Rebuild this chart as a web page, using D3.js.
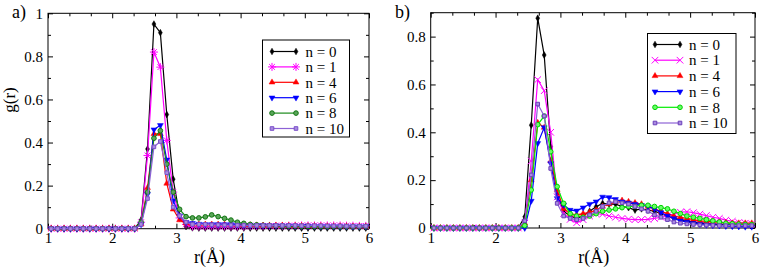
<!DOCTYPE html>
<meta charset="utf-8">
<head>
<style>
body { margin: 0; background: #fff; }
svg { display: block; font-family: "Liberation Serif", "Times New Roman", serif; }
.axis { font-family: "Liberation Serif", "Times New Roman", serif; }
.tick text { font-size: 15px; fill: #000; }
.axis line { stroke: #000; }
</style>
</head>
<body>
<script src="https://cdn.jsdelivr.net/npm/d3@7"></script>
<svg id="chart" width="760" height="271"></svg>
<script>

// r sampling (Å)
var rValues = [1.05, 1.15, 1.25, 1.35, 1.45, 1.55, 1.65, 1.75, 1.85, 1.95,
  2.05, 2.15, 2.25, 2.35, 2.45, 2.55, 2.65, 2.75, 2.85, 2.95,
  3.05, 3.15, 3.25, 3.35, 3.45, 3.55, 3.65, 3.75, 3.85, 3.95,
  4.05, 4.15, 4.25, 4.35, 4.45, 4.55, 4.65, 4.75, 4.85, 4.95,
  5.05, 5.15, 5.25, 5.35, 5.45, 5.55, 5.65, 5.75, 5.85, 5.95];

var seriesNames = ["n = 0", "n = 1", "n = 4", "n = 6", "n = 8", "n = 10"];

// panel a)
var a_n0 = [0,0,0,0,0,0,0,0,0,0,0,0,0,0,
  0.04, 0.37, 0.95, 0.91, 0.53, 0.23, 0.06, 0.01,
  0.004,0.003,0.003,0.003,0.003,0.003,0.003,0.003,0.003,0.003,0.003,0.003,0.003,0.003,
  0.003,0.003,0.003,0.003,0.003,0.003,0.003,0.003,0.003,0.003,0.003,0.003,0.003,0.003];
var a_n1 = [0,0,0,0,0,0,0,0,0,0,0,0,0,0,
  0.03, 0.34, 0.82, 0.75, 0.41, 0.17, 0.05, 0.02,
  0.01,0.01,0.01,0.01,0.01,0.01,0.01,0.01,0.01,0.012,0.012,0.012,0.013,0.013,
  0.013,0.014,0.014,0.015,0.015,0.015,0.015,0.015,0.015,0.015,0.014,0.014,0.013,0.013];
var a_n4 = [0,0,0,0,0,0,0,0,0,0,0,0,0,0,
  0.02, 0.19, 0.44, 0.44, 0.21, 0.09, 0.04, 0.025,
  0.02,0.02,0.02,0.02,0.02,0.02,0.02,0.018,0.018,0.017,0.016,0.015,0.015,0.015,
  0.015,0.014,0.014,0.014,0.013,0.013,0.013,0.012,0.012,0.012,0.012,0.011,0.011,0.011];
var a_n6 = [0,0,0,0,0,0,0,0,0,0,0,0,0,0,
  0.02, 0.16, 0.46, 0.48, 0.32, 0.13, 0.06, 0.03,
  0.025,0.022,0.02,0.02,0.02,0.02,0.02,0.018,0.017,0.016,0.015,0.015,0.014,0.014,
  0.013,0.013,0.012,0.012,0.012,0.011,0.011,0.011,0.01,0.01,0.01,0.01,0.01,0.01];
var a_n8 = [0,0,0,0,0,0,0,0,0,0,0,0,0,0,
  0.03, 0.17, 0.42, 0.455, 0.30, 0.17, 0.09, 0.056,
  0.05,0.05,0.055,0.064,0.056,0.048,0.04,0.03,0.025,0.02,0.018,0.016,0.015,0.014,
  0.013,0.012,0.012,0.011,0.011,0.01,0.01,0.01,0.01,0.01,0.01,0.01,0.01,0.01];
var a_n10 = [0,0,0,0,0,0,0,0,0,0,0,0,0,0,
  0.02, 0.14, 0.38, 0.405, 0.26, 0.10, 0.06, 0.03,
  0.02,0.02,0.02,0.018,0.018,0.017,0.017,0.016,0.016,0.015,0.015,0.015,0.015,0.015,
  0.015,0.015,0.015,0.014,0.014,0.014,0.014,0.013,0.013,0.013,0.012,0.012,0.012,0.012];

// panel b)
var b_n0 = [0,0,0,0,0,0,0,0,0,0,0,0,0,0,
  0.047, 0.43, 0.877, 0.723, 0.34, 0.14, 0.07, 0.05,
  0.04,0.05,0.07,0.089,0.103,0.10,0.10,0.09,0.085,0.075,
  0.08,0.075,0.07,0.06,0.05,0.04,0.035,0.03,0.025,0.02,
  0.018,0.015,0.014,0.013,0.012,0.011,0.01,0.01];
var b_n1 = [0,0,0,0,0,0,0,0,0,0,0,0,0,0,
  0.02, 0.28, 0.62, 0.574, 0.40, 0.13, 0.061, 0.036,
  0.022,0.035,0.05,0.06,0.058,0.05,0.045,0.04,0.037,0.035,
  0.035,0.036,0.04,0.045,0.05,0.058,0.066,0.068,0.064,0.058,
  0.052,0.045,0.04,0.033,0.028,0.023,0.02,0.017];
var b_n4 = [0,0,0,0,0,0,0,0,0,0,0,0,0,0,
  0.02, 0.20, 0.44, 0.42, 0.28, 0.16, 0.08, 0.06,
  0.055,0.06,0.065,0.075,0.09,0.10,0.11,0.115,0.11,0.105,
  0.10,0.09,0.08,0.07,0.06,0.05,0.045,0.04,0.035,0.03,
  0.028,0.026,0.024,0.022,0.02,0.02,0.02,0.02];
var b_n6 = [0,0,0,0,0,0,0,0,0,0,0,0,0,0,
  0.0, 0.113, 0.354, 0.42, 0.27, 0.124, 0.096, 0.075,
  0.072,0.085,0.10,0.11,0.13,0.128,0.12,0.11,0.105,0.10,
  0.095,0.09,0.08,0.065,0.05,0.04,0.03,0.025,0.02,0.016,
  0.013,0.011,0.01,0.008,0.007,0.006,0.005,0.005];
var b_n8 = [0,0,0,0,0,0,0,0,0,0,0,0,0,0,
  0.01, 0.159, 0.432, 0.468, 0.319, 0.173, 0.103, 0.06,
  0.05,0.045,0.05,0.06,0.07,0.075,0.08,0.085,0.09,0.09,
  0.095,0.095,0.09,0.085,0.08,0.07,0.06,0.05,0.045,0.04,
  0.035,0.03,0.025,0.02,0.018,0.016,0.015,0.014];
var b_n10 = [0,0,0,0,0,0,0,0,0,0,0,0,0,0,
  0.03, 0.222, 0.518, 0.468, 0.249, 0.103, 0.05, 0.04,
  0.035,0.04,0.055,0.07,0.09,0.105,0.11,0.105,0.10,0.09,
  0.08,0.07,0.055,0.045,0.035,0.025,0.02,0.017,0.015,0.013,
  0.012,0.011,0.01,0.01,0.01,0.01,0.01,0.01];

var xTicks = [1, 2, 3, 4, 5, 6];
var yTicksA = [0, 0.2, 0.4, 0.6, 0.8, 1];
var yTicksB = [0, 0.2, 0.4, 0.6, 0.8];

// custom marker paths
function starPath(r) {
  var d = r * 0.72;
  return "M0," + (-r) + "V" + r + "M" + (-r) + ",0H" + r +
    "M" + (-d) + "," + (-d) + "L" + d + "," + d + "M" + (-d) + "," + d + "L" + d + "," + (-d);
}
function crossPath(r) {
  return "M" + (-r) + "," + (-r) + "L" + r + "," + r + "M" + (-r) + "," + r + "L" + r + "," + (-r);
}
var diamond = d3.symbol().type(d3.symbolDiamond).size(13)();
var triUp = d3.symbol().type(d3.symbolTriangle).size(15)();
var circle = d3.symbol().type(d3.symbolCircle).size(17)();
var square = d3.symbol().type(d3.symbolSquare).size(13)();

var svg = d3.select("#chart");

function drawPanel(opt) {
  var x = d3.scaleLinear().domain([1, 6]).range([opt.left, opt.right]);
  var y = d3.scaleLinear().domain([0, opt.ymax]).range([opt.bottom, opt.top]);
  var g = svg.append("g");

  // frame
  g.append("rect")
    .attr("x", opt.left).attr("y", opt.top)
    .attr("width", opt.right - opt.left).attr("height", opt.bottom - opt.top)
    .attr("fill", "none").attr("stroke", "#000").attr("stroke-width", 1);

  var xMinor = [];
  for (var v = 1; v < 6; v++) xMinor.push(v + 1 / 3, v + 2 / 3);
  var yMinor = [];
  for (var k = 0.1; k < opt.ymax; k += 0.2) yMinor.push(+k.toFixed(1));
  var fmt = function(d) { return String(+d.toFixed(1)); };

  function ax(gen, tr, vals, size, labels) {
    var a = gen.tickValues(vals).tickSize(-size).tickSizeOuter(0).tickPadding(4)
      .tickFormat(labels ? fmt : "");
    var s = g.append("g").attr("class", "axis").attr("transform", tr).call(a);
    s.attr("font-family", null);
    s.select(".domain").remove();
    return s;
  }
  ax(d3.axisBottom(x), "translate(0," + opt.bottom + ")", xTicks, 5, true);
  ax(d3.axisBottom(x), "translate(0," + opt.bottom + ")", xMinor, 3, false);
  ax(d3.axisTop(x), "translate(0," + opt.top + ")", xTicks, 5, false);
  ax(d3.axisTop(x), "translate(0," + opt.top + ")", xMinor, 3, false);
  var yl = ax(d3.axisLeft(y), "translate(" + opt.left + ",0)", opt.yTicks, 5, true);
  yl.selectAll("text").attr("x", -5);
  ax(d3.axisLeft(y), "translate(" + opt.left + ",0)", yMinor, 3, false);
  ax(d3.axisRight(y), "translate(" + opt.right + ",0)", opt.yTicks, 5, false);
  ax(d3.axisRight(y), "translate(" + opt.right + ",0)", yMinor, 3, false);

  // axis titles
  g.append("text").attr("x", (opt.left + opt.right) / 2 + 1).attr("y", 263)
    .attr("text-anchor", "middle").style("font-size", "18px").text("r(Å)");
  if (opt.ylabel) {
    g.append("text").attr("transform", "translate(15,100) rotate(-90)")
      .attr("text-anchor", "middle").style("font-size", "17px").text(opt.ylabel);
  }
  g.append("text").attr("x", opt.tagX).attr("y", 18)
    .style("font-size", "18px").text(opt.tag);

  var line = d3.line().x(function(d, i) { return x(rValues[i]); }).y(function(d) { return y(d); });

  opt.series.forEach(function(s) {
    g.append("path").datum(s.values)
      .attr("fill", "none").attr("stroke", s.color).attr("stroke-width", 1.2)
      .attr("d", line);
    g.selectAll(null).data(s.values).enter().append("path")
      .attr("transform", function(d, i) {
        return "translate(" + x(rValues[i]) + "," + y(d) + ")" + (s.rot ? " rotate(180)" : "");
      })
      .attr("d", s.shape)
      .attr("fill", s.fill).attr("stroke", s.stroke).attr("stroke-width", s.sw);
  });

  // legend
  var L = opt.legend;
  g.append("rect").attr("x", L.x).attr("y", L.y).attr("width", L.w).attr("height", L.h)
    .attr("fill", "#fff").attr("stroke", "#000").attr("stroke-width", 1);
  opt.series.forEach(function(s, i) {
    var yy = L.row0 + i * L.dy;
    var row = g.append("g");
    row.append("line").attr("x1", L.lx1).attr("x2", L.lx2).attr("y1", yy).attr("y2", yy)
      .attr("stroke", s.color).attr("stroke-width", 1.2);
    [L.lx1, L.lx2].forEach(function(px) {
      row.append("path").attr("d", s.shape)
        .attr("transform", "translate(" + px + "," + yy + ")" + (s.rot ? " rotate(180)" : ""))
        .attr("fill", s.fill).attr("stroke", s.stroke).attr("stroke-width", s.sw);
    });
    row.append("text").attr("x", L.tx).attr("y", yy).attr("dy", "0.35em")
      .style("font-size", "15px").text(seriesNames[i]);
  });
}

drawPanel({
  left: 48, right: 369, top: 13.3, bottom: 228.7, ymax: 1, yTicks: yTicksA,
  ylabel: "g(r)", tag: "a)", tagX: 12,
  legend: {x: 262.5, y: 40, w: 87, h: 97, row0: 51.5, dy: 15.4, lx1: 272, lx2: 296, tx: 305.5},
  series: [
    {values: a_n0, color: "#000", shape: diamond, fill: "#000", stroke: "#000", sw: 0.5},
    {values: a_n1, color: "#ff00ff", shape: starPath(4), fill: "none", stroke: "#ff00ff", sw: 1},
    {values: a_n4, color: "#ff0000", shape: triUp, fill: "#ff0000", stroke: "#ff0000", sw: 0.5},
    {values: a_n6, color: "#0000ff", shape: triUp, rot: true, fill: "#0000ff", stroke: "#0000ff", sw: 0.5},
    {values: a_n8, color: "#1b8a1b", shape: circle, fill: "#5aa65a", stroke: "#137513", sw: 1},
    {values: a_n10, color: "#8d62d6", shape: square, fill: "#a98be0", stroke: "#7a4fc9", sw: 1}
  ]
});

drawPanel({
  left: 430.7, right: 755, top: 12.7, bottom: 228, ymax: 0.9, yTicks: yTicksB,
  ylabel: null, tag: "b)", tagX: 395,
  legend: {x: 647.5, y: 33.5, w: 88.5, h: 100, row0: 44.5, dy: 15.7, lx1: 655, lx2: 680, tx: 689},
  series: [
    {values: b_n0, color: "#000", shape: diamond, fill: "#000", stroke: "#000", sw: 0.5},
    {values: b_n1, color: "#ff00ff", shape: crossPath(3.3), fill: "none", stroke: "#ff00ff", sw: 1},
    {values: b_n4, color: "#ff0000", shape: triUp, fill: "#ff0000", stroke: "#ff0000", sw: 0.5},
    {values: b_n6, color: "#0000ff", shape: triUp, rot: true, fill: "#0000ff", stroke: "#0000ff", sw: 0.5},
    {values: b_n8, color: "#00ee00", shape: circle, fill: "#66ff66", stroke: "#00d000", sw: 1},
    {values: b_n10, color: "#8d62d6", shape: square, fill: "#a98be0", stroke: "#6a3fb9", sw: 1}
  ]
});
</script>
</body>
</html>
